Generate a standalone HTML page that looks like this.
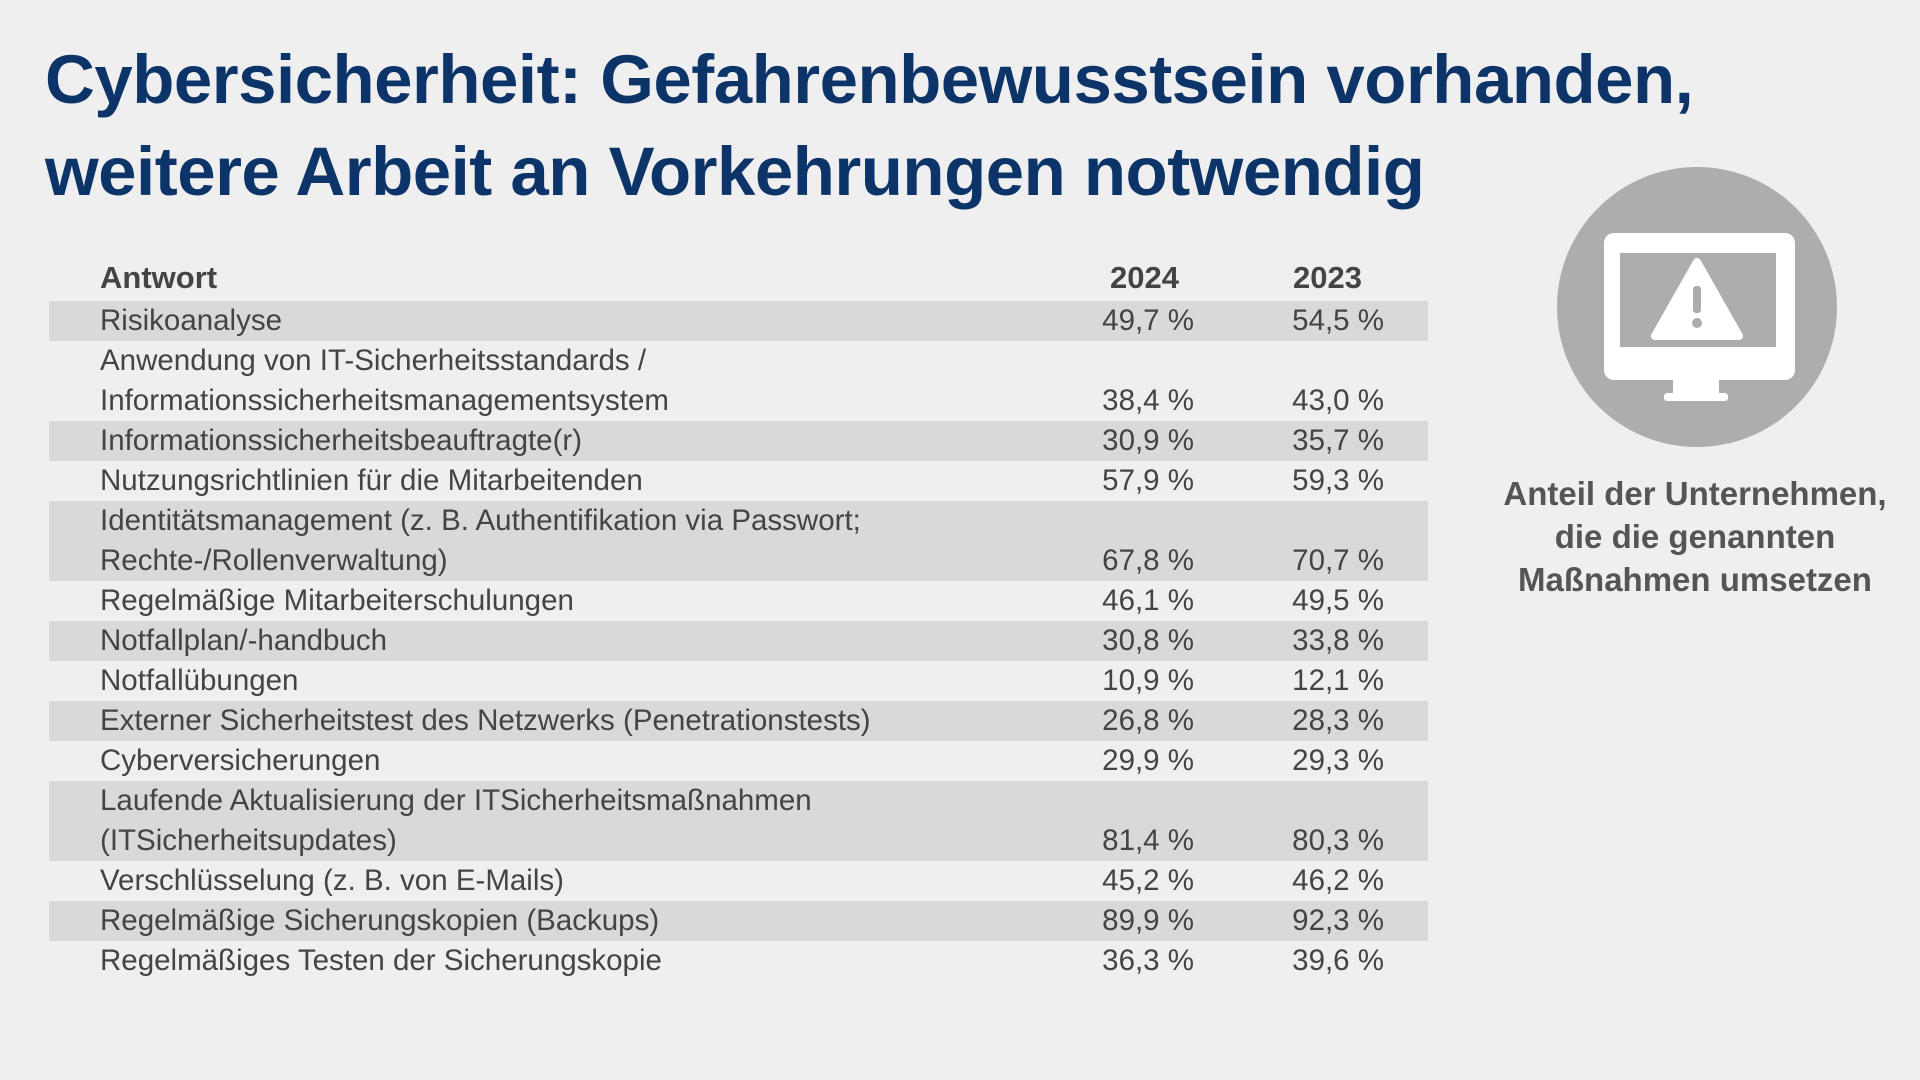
<!DOCTYPE html>
<html><head><meta charset="utf-8"><style>
body{margin:0;width:1920px;height:1080px;background:#efefef;font-family:"Liberation Sans",sans-serif;position:relative;overflow:hidden}
h1{position:absolute;left:45px;top:34px;margin:0;font-size:69px;line-height:92px;color:#0d3468;font-weight:bold;letter-spacing:-0.5px}
.hdr{position:absolute;top:260px;font-size:31px;font-weight:bold;color:#444}
.row{position:absolute;left:49px;width:1379px;color:#444;font-size:29.5px}
.row.s{background:#d9d9d9}
.row .t{position:absolute;left:51px;line-height:40px;bottom:0;white-space:nowrap}
.row .a,.row .b{position:absolute;bottom:0;line-height:40px;text-align:right}
.row .a{right:234px}.row .b{right:44px}
.cap{position:absolute;left:1460px;width:470px;top:472px;text-align:center;font-weight:bold;font-size:33px;line-height:43px;color:#555}
</style></head><body>
<h1>Cybersicherheit: Gefahrenbewusstsein vorhanden,<br>weitere Arbeit an Vorkehrungen notwendig</h1>
<div class="hdr" style="left:1110px">2024</div>
<div class="hdr" style="left:100px">Antwort</div>
<div class="hdr" style="left:1293px">2023</div>
<div id="rows"></div>
<svg style="position:absolute;left:0;top:0" width="1920" height="1080">
<circle cx="1697" cy="307" r="140" fill="#adadad"/>
<rect x="1604" y="233" width="191" height="147" rx="10" fill="#fff"/>
<rect x="1620" y="253" width="156" height="94" fill="#adadad"/>
<rect x="1673" y="380" width="46" height="15" fill="#fff"/>
<rect x="1664" y="393" width="64" height="8" rx="3" fill="#fff"/>
<path d="M1697 262 L1739 336 L1655 336 Z" fill="#fff" stroke="#fff" stroke-width="8" stroke-linejoin="round"/>
<rect x="1693" y="286" width="8" height="27" rx="3" fill="#adadad"/>
<circle cx="1697" cy="323" r="5" fill="#adadad"/>
</svg>
<div class="cap">Anteil der Unternehmen,<br>die die genannten<br>Maßnahmen umsetzen</div>
<script>
var d=[["Risikoanalyse","49,7 %","54,5 %",1],
["Anwendung von IT-Sicherheitsstandards /<br>Informationssicherheitsmanagementsystem","38,4 %","43,0 %",2],
["Informationssicherheitsbeauftragte(r)","30,9 %","35,7 %",1],
["Nutzungsrichtlinien für die Mitarbeitenden","57,9 %","59,3 %",1],
["Identitätsmanagement (z. B. Authentifikation via Passwort;<br>Rechte-/Rollenverwaltung)","67,8 %","70,7 %",2],
["Regelmäßige Mitarbeiterschulungen","46,1 %","49,5 %",1],
["Notfallplan/-handbuch","30,8 %","33,8 %",1],
["Notfallübungen","10,9 %","12,1 %",1],
["Externer Sicherheitstest des Netzwerks (Penetrationstests)","26,8 %","28,3 %",1],
["Cyberversicherungen","29,9 %","29,3 %",1],
["Laufende Aktualisierung der ITSicherheitsmaßnahmen<br>(ITSicherheitsupdates)","81,4 %","80,3 %",2],
["Verschlüsselung (z. B. von E-Mails)","45,2 %","46,2 %",1],
["Regelmäßige Sicherungskopien (Backups)","89,9 %","92,3 %",1],
["Regelmäßiges Testen der Sicherungskopie","36,3 %","39,6 %",1]];
var y=301,h="";
d.forEach(function(r,i){var H=r[3]*40;h+='<div class="row'+(i%2==0?' s':'')+'" style="top:'+y+'px;height:'+H+'px"><div class="t">'+r[0]+'</div><div class="a">'+r[1]+'</div><div class="b">'+r[2]+'</div></div>';y+=H;});
document.getElementById("rows").innerHTML=h;
</script>
</body></html>
